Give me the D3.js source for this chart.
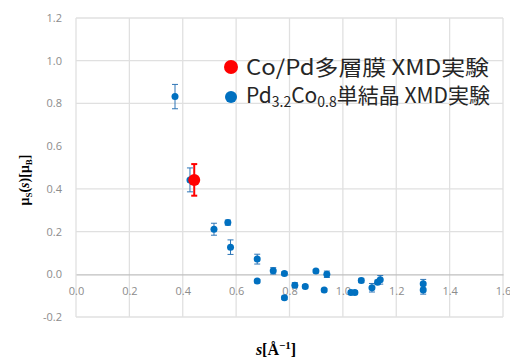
<!DOCTYPE html>
<html lang="ja">
  <head>
    <meta charset="UTF-8" />
    <title>XMD mu_s(s)</title>
    <script src="https://cdn.jsdelivr.net/npm/d3@7"></script>
    <style>
      body { margin: 0; background: #fff; }
      .tick text { font-family: "Open Sans", sans-serif; font-size: 11px; fill: #8c8c8c; }
    </style>
  </head>
  <body>
    <div id="chart"></div>
    <script>
      // Pd3.2Co0.8 single crystal XMD
      const blueS = [0.371, 0.427, 0.517, 0.569, 0.579, 0.679, 0.679, 0.739, 0.781, 0.781, 0.820, 0.859,
        0.899, 0.940, 0.930, 1.030, 1.045, 1.069, 1.109, 1.130, 1.140, 1.301, 1.301];
      const blueMu = [0.832, 0.442, 0.211, 0.242, 0.127, 0.071, -0.032, 0.016, 0.004, -0.110, -0.051, -0.057,
        0.015, 0.000, -0.074, -0.085, -0.085, -0.029, -0.063, -0.037, -0.026, -0.044, -0.073];
      const blueErr = [0.057, 0.056, 0.028, 0.012, 0.034, 0.023, 0.008, 0.015, 0.008, 0.008, 0.012, 0.008,
        0.008, 0.015, 0.008, 0.008, 0.008, 0.010, 0.020, 0.010, 0.020, 0.020, 0.020];
      // Co/Pd multilayer XMD
      const redS = [0.443];
      const redMu = [0.442];
      const redErr = [0.074];

      const xTicks = [0, 0.2, 0.4, 0.6, 0.8, 1.0, 1.2, 1.4, 1.6];
      const yTicks = [-0.2, 0, 0.2, 0.4, 0.6, 0.8, 1.0, 1.2];

      const W = 510, H = 358;
      const svg = d3.select("#chart").append("svg").attr("width", W).attr("height", H);

      const x = d3.scaleLinear().domain([0, 1.6]).range([76, 503]);
      const y = d3.scaleLinear().domain([-0.2, 1.2]).range([317, 18]);

      // gridlines (the 0.6 line is not drawn in the original)
      svg.append("g").selectAll("line").data(xTicks).enter().append("line")
        .attr("x1", d => x(d)).attr("x2", d => x(d))
        .attr("y1", y(1.2)).attr("y2", y(-0.2))
        .attr("stroke", "#e0e0e0").attr("stroke-width", 1.3);
      svg.append("g").selectAll("line").data(yTicks.filter(d => d !== 0 && d !== 0.6)).enter().append("line")
        .attr("x1", x(0)).attr("x2", x(1.6))
        .attr("y1", d => y(d)).attr("y2", d => y(d))
        .attr("stroke", "#e0e0e0").attr("stroke-width", 1.3);

      // axes
      const yAxis = svg.append("g").attr("transform", "translate(62,0)")
        .call(d3.axisLeft(y).tickValues(yTicks).tickSize(0).tickPadding(0));
      yAxis.select(".domain").remove();
      yAxis.selectAll("text").text(d => d3.format(".1f")(d).replace("−", "-"));

      const xAxis = svg.append("g").attr("transform", "translate(0," + y(0) + ")")
        .call(d3.axisBottom(x).tickValues(xTicks).tickFormat(d3.format(".1f")).tickSize(0).tickPadding(13));
      xAxis.select(".domain").attr("stroke", "#bfbfbf").attr("stroke-width", 1.3);

      const blue = blueS.map((s, i) => ({ s: s, mu: blueMu[i], err: blueErr[i] }));
      const red = redS.map((s, i) => ({ s: s, mu: redMu[i], err: redErr[i] }));

      function errorBars(data, color, width, cap) {
        const g = svg.append("g").attr("stroke", color).attr("stroke-width", width);
        data.forEach(d => {
          g.append("line").attr("x1", x(d.s)).attr("x2", x(d.s))
            .attr("y1", y(d.mu + d.err)).attr("y2", y(d.mu - d.err));
          [d.mu + d.err, d.mu - d.err].forEach(v => {
            g.append("line").attr("x1", x(d.s) - cap).attr("x2", x(d.s) + cap)
              .attr("y1", y(v)).attr("y2", y(v));
          });
        });
      }

      errorBars(blue, "#2e75b6", 1, 3);
      svg.append("g").selectAll("circle").data(blue).enter().append("circle")
        .attr("cx", d => x(d.s)).attr("cy", d => y(d.mu)).attr("r", 3.5)
        .attr("fill", "#0070c0");

      errorBars(red, "#ff0000", 2, 3);
      svg.append("g").selectAll("circle").data(red).enter().append("circle")
        .attr("cx", d => x(d.s)).attr("cy", d => y(d.mu)).attr("r", 6)
        .attr("fill", "#ff0000");

      // legend
      const lg = svg.append("g").attr("font-family", "'Noto Sans CJK JP', sans-serif")
        .attr("font-size", 21).attr("fill", "#262626");
      lg.append("circle").attr("cx", 231).attr("cy", 67).attr("r", 7).attr("fill", "#ff0000");
      lg.append("text").attr("x", 246).attr("y", 75)
        .attr("textLength", 243).attr("lengthAdjust", "spacingAndGlyphs")
        .text("Co/Pd多層膜 XMD実験");
      lg.append("circle").attr("cx", 231).attr("cy", 97).attr("r", 6).attr("fill", "#0070c0");
      const t2 = lg.append("text").attr("x", 246).attr("y", 103);
      t2.append("tspan").text("Pd");
      t2.append("tspan").attr("font-size", 14).attr("dy", 4).text("3.2");
      t2.append("tspan").attr("dy", -4).text("Co");
      t2.append("tspan").attr("font-size", 14).attr("dy", 4).text("0.8");
      t2.append("tspan").attr("dy", -4).text("単結晶 XMD実験");

      // axis titles
      const yt = svg.append("text").attr("transform", "translate(29,180) rotate(-90)")
        .attr("text-anchor", "middle").attr("font-family", "'Liberation Serif', serif")
        .attr("font-weight", "bold").attr("font-size", 14).attr("fill", "#000");
      yt.append("tspan").text("μ");
      yt.append("tspan").attr("font-size", 9).attr("dy", 3).text("S");
      yt.append("tspan").attr("dy", -3).text("(");
      yt.append("tspan").attr("font-style", "italic").text("s");
      yt.append("tspan").text(")[μ");
      yt.append("tspan").attr("font-size", 9).attr("dy", 3).text("B");
      yt.append("tspan").attr("dy", -3).text("]");

      const xt = svg.append("text").attr("x", 276).attr("y", 355)
        .attr("text-anchor", "middle").attr("font-family", "'Liberation Serif', serif")
        .attr("font-weight", "bold").attr("font-size", 16).attr("fill", "#000");
      xt.append("tspan").attr("font-style", "italic").text("s");
      xt.append("tspan").text("[Å");
      xt.append("tspan").attr("font-size", 11).attr("dy", -6).text("−1");
      xt.append("tspan").attr("dy", 6).text("]");
    </script>
  </body>
</html>
